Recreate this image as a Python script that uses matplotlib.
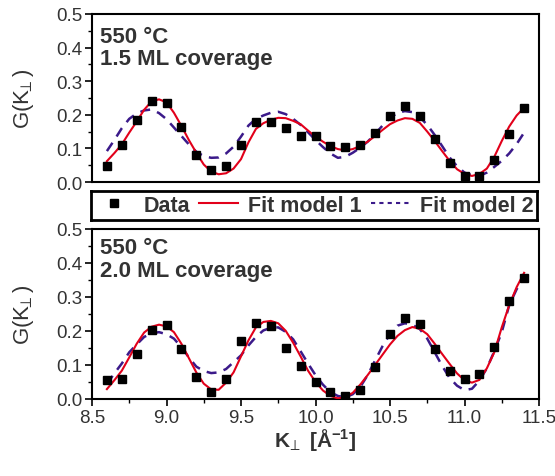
import numpy as np
import matplotlib
matplotlib.use("Agg")
import matplotlib.pyplot as plt
from matplotlib.lines import Line2D
from matplotlib.ticker import MultipleLocator

plt.rcParams['font.family'] = ['Liberation Sans', 'DejaVu Sans']
plt.rcParams['mathtext.fontset'] = 'custom'
plt.rcParams['mathtext.rm'] = 'Liberation Sans'
plt.rcParams['mathtext.bf'] = 'Liberation Sans:bold'
plt.rcParams['mathtext.default'] = 'rm'

# measured data, K_perp grid 8.6 .. 11.4 in steps of 0.1
k_data = [8.6, 8.7, 8.8, 8.9, 9.0, 9.1, 9.2, 9.3, 9.4, 9.5, 9.6, 9.7, 9.8, 9.9, 10.0,
          10.1, 10.2, 10.3, 10.4, 10.5, 10.6, 10.7, 10.8, 10.9, 11.0, 11.1, 11.2, 11.3, 11.4]
g_15 = [0.048, 0.110, 0.185, 0.240, 0.235, 0.163, 0.080, 0.035, 0.048, 0.110, 0.178, 0.178,
        0.160, 0.137, 0.137, 0.107, 0.104, 0.110, 0.146, 0.197, 0.225, 0.195, 0.128, 0.057,
        0.018, 0.018, 0.066, 0.143, 0.220]
g_20 = [0.056, 0.059, 0.132, 0.201, 0.218, 0.147, 0.064, 0.020, 0.059, 0.169, 0.223, 0.213,
        0.150, 0.098, 0.049, 0.020, 0.008, 0.026, 0.095, 0.191, 0.238, 0.219, 0.147, 0.083,
        0.059, 0.074, 0.152, 0.287, 0.356]

k_fit = [8.60, 8.65, 8.70, 8.75, 8.80, 8.85, 8.90, 8.95, 9.00, 9.05, 9.10, 9.15, 9.20, 9.25,
         9.30, 9.35, 9.40, 9.45, 9.50, 9.55, 9.60, 9.65, 9.70, 9.75, 9.80, 9.85, 9.90, 9.95,
         10.00, 10.05, 10.10, 10.15, 10.20, 10.25, 10.30, 10.35, 10.40, 10.45, 10.50, 10.55,
         10.60, 10.65, 10.70, 10.75, 10.80, 10.85, 10.90, 10.95, 11.00, 11.05, 11.10, 11.15,
         11.20, 11.25, 11.30, 11.35, 11.40]
fit1_15 = [0.062, 0.086, 0.112, 0.147, 0.180, 0.215, 0.240, 0.246, 0.237, 0.206, 0.167, 0.125,
           0.087, 0.052, 0.031, 0.023, 0.026, 0.040, 0.068, 0.118, 0.158, 0.175, 0.185, 0.191,
           0.190, 0.182, 0.172, 0.153, 0.135, 0.120, 0.107, 0.098, 0.094, 0.098, 0.107, 0.120,
           0.137, 0.155, 0.172, 0.183, 0.190, 0.188, 0.176, 0.150, 0.122, 0.092, 0.063, 0.038,
           0.024, 0.018, 0.024, 0.040, 0.075, 0.122, 0.165, 0.198, 0.221]
fit2_15 = [0.092, 0.125, 0.160, 0.188, 0.204, 0.213, 0.216, 0.205, 0.187, 0.162, 0.137, 0.112,
           0.090, 0.077, 0.072, 0.073, 0.085, 0.105, 0.135, 0.168, 0.188, 0.198, 0.206, 0.209,
           0.202, 0.188, 0.170, 0.148, 0.125, 0.104, 0.085, 0.072, 0.075, 0.087, 0.102, 0.120,
           0.143, 0.168, 0.190, 0.206, 0.211, 0.208, 0.193, 0.170, 0.140, 0.107, 0.073, 0.047,
           0.028, 0.020, 0.018, 0.028, 0.045, 0.063, 0.085, 0.113, 0.147]
fit1_20 = [0.029, 0.055, 0.083, 0.122, 0.162, 0.195, 0.212, 0.218, 0.213, 0.196, 0.162, 0.120,
           0.078, 0.045, 0.028, 0.027, 0.048, 0.078, 0.125, 0.172, 0.210, 0.226, 0.229, 0.222,
           0.200, 0.165, 0.125, 0.083, 0.050, 0.025, 0.009, 0.002, 0.006, 0.018, 0.042, 0.070,
           0.100, 0.130, 0.160, 0.185, 0.202, 0.211, 0.206, 0.190, 0.162, 0.132, 0.103, 0.075,
           0.055, 0.048, 0.056, 0.090, 0.137, 0.210, 0.275, 0.328, 0.370]
fit2_20 = [0.044, 0.075, 0.104, 0.137, 0.160, 0.182, 0.193, 0.196, 0.190, 0.177, 0.152, 0.122,
           0.095, 0.082, 0.076, 0.078, 0.088, 0.108, 0.128, 0.157, 0.182, 0.201, 0.209, 0.210,
           0.197, 0.175, 0.140, 0.104, 0.070, 0.042, 0.020, 0.009, 0.005, 0.014, 0.035, 0.070,
           0.113, 0.155, 0.190, 0.215, 0.222, 0.218, 0.205, 0.177, 0.137, 0.097, 0.062, 0.039,
           0.026, 0.030, 0.054, 0.090, 0.140, 0.196, 0.275, 0.322, 0.356]

panel_labels = ["550 °C\n1.5 ML coverage", "550 °C\n2.0 ML coverage"]
legend_labels = ["Data", "Fit model 1", "Fit model 2"]

red = '#e2001a'
purple = '#3b1a8a'
gray = '#333333'

fig = plt.figure(figsize=(5.55, 4.77), dpi=100)
ax_top = fig.add_axes([92/555, 1 - 183/477, 447/555, 168/477])
ax_bot = fig.add_axes([92/555, 1 - 400/477, 447/555, 170.5/477])
ax_leg = fig.add_axes([91/555, 1 - 221/477, 446/555, 29/477])

panels = [(ax_top, g_15, fit1_15, fit2_15), (ax_bot, g_20, fit1_20, fit2_20)]
text_y = [0.93, 0.95]
for i, (ax, g, f1, f2) in enumerate(panels):
    ax.plot(k_fit, f2, color=purple, lw=1.8, dashes=(4, 3), zorder=2)
    ax.plot(k_fit, f1, color=red, lw=1.5, zorder=3)
    ax.plot(k_data, g, 's', color='black', ms=5.5, zorder=4)
    ax.set_xlim(8.5, 11.5)
    ax.set_ylim(0.0, 0.5)
    ax.yaxis.set_major_locator(MultipleLocator(0.1))
    ax.yaxis.set_minor_locator(MultipleLocator(0.05))
    ax.xaxis.set_major_locator(MultipleLocator(0.5))
    ax.xaxis.set_minor_locator(MultipleLocator(0.25))
    ax.tick_params(which='major', direction='out', length=5, width=1.2,
                   labelsize=13.5, labelcolor=gray, pad=2)
    ax.tick_params(which='minor', direction='out', length=3, width=1.0)
    ax.yaxis.set_major_formatter(plt.FormatStrFormatter('%.1f'))
    ax.xaxis.set_major_formatter(plt.FormatStrFormatter('%.1f'))
    for sp in ax.spines.values():
        sp.set_linewidth(1.5)
    ax.set_ylabel('$\\mathrm{G(K_{\\!\\!\\perp})}$', fontsize=16, color=gray)
    ax.yaxis.set_label_coords(-0.125, 0.5)
    ax.text(0.018, text_y[i], panel_labels[i], transform=ax.transAxes, va='top', ha='left',
            fontsize=16, fontweight='bold', color=gray, linespacing=1.1)

ax_top.tick_params(axis='x', which='both', bottom=False, labelbottom=False)
ax_bot.set_xlabel('$\\mathbf{K}_{\\!\\perp}$ [Å$^{\\mathbf{-1}}$]', fontsize=15,
                  fontweight='bold', color=gray)
ax_bot.xaxis.set_label_coords(0.5, -0.275)
ax_bot.xaxis.label.set_va('baseline')

# legend box
ax_leg.set_xticks([])
ax_leg.set_yticks([])
for sp in ax_leg.spines.values():
    sp.set_linewidth(2)
handles = [Line2D([], [], ls='none', marker='s', color='black', ms=5.3),
           Line2D([], [], color=red, lw=1.5),
           Line2D([], [], color=purple, lw=1.5, dashes=(2, 2))]
ax_leg.legend(handles, legend_labels, loc='center', ncol=3, frameon=False,
              prop={'weight': 'bold', 'size': 15.5}, labelcolor=gray,
              handlelength=1.8, handletextpad=0.45, columnspacing=0.45,
              borderaxespad=0, borderpad=0)

fig.savefig('out.png', dpi=100)
